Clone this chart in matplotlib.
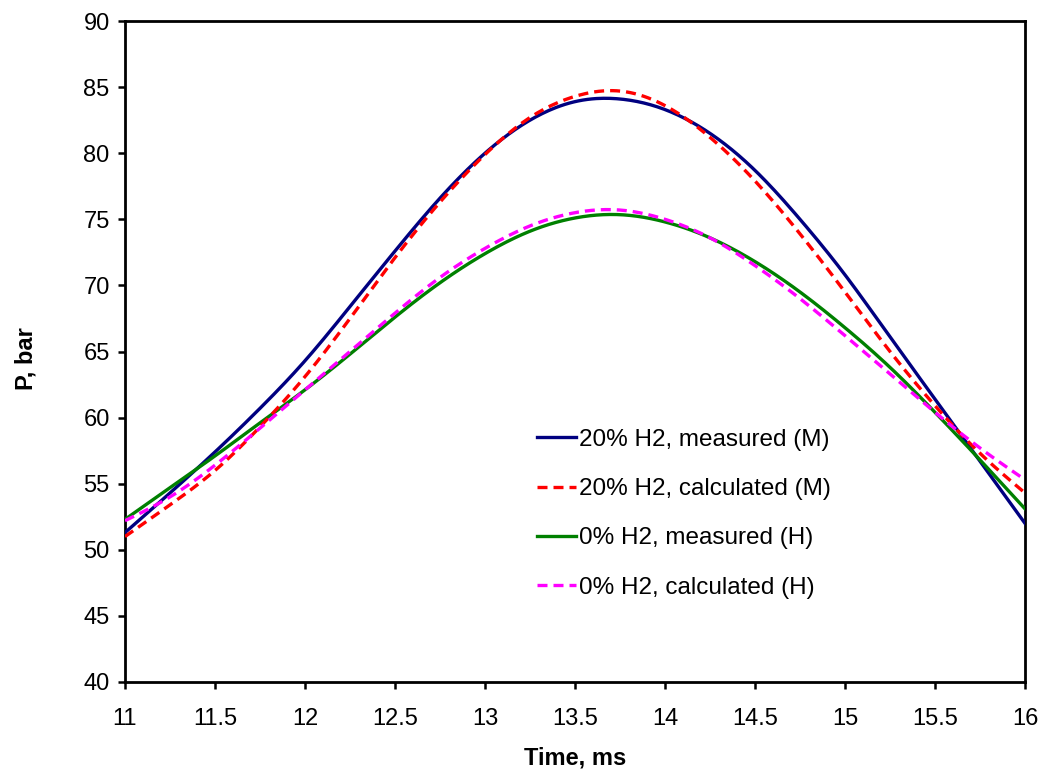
import matplotlib
matplotlib.use("Agg")
import matplotlib.pyplot as plt
import numpy as np

plt.rcParams['font.family'] = ['Liberation Sans', 'DejaVu Sans']

time_ms = [11.0, 11.25, 11.5, 11.75, 12.0, 12.25, 12.5, 12.75, 13.0, 13.25, 13.5,
           13.75, 14.0, 14.25, 14.5, 14.75, 15.0, 15.25, 15.5, 15.75, 16.0]

h2_20_measured = [51.3, 54.3, 57.4, 60.7, 64.3, 68.4, 72.6, 76.6, 80.0, 82.5, 83.9,
                  84.1, 83.3, 81.5, 78.7, 75.0, 70.8, 66.1, 61.4, 56.7, 52.0]
h2_20_calculated = [51.0, 53.4, 56.0, 59.3, 63.1, 67.5, 72.1, 76.3, 79.9, 82.7, 84.3,
                    84.7, 83.6, 81.2, 77.9, 73.9, 69.5, 65.0, 60.9, 57.3, 54.3]
h2_0_measured = [52.3, 54.7, 57.1, 59.6, 62.1, 64.8, 67.6, 70.2, 72.4, 74.1, 75.1,
                 75.35, 74.8, 73.6, 71.8, 69.5, 66.8, 63.8, 60.4, 56.8, 53.1]
h2_0_calculated = [52.2, 54.0, 56.4, 59.2, 62.1, 65.0, 67.9, 70.6, 72.8, 74.5, 75.5,
                   75.7, 75.0, 73.6, 71.5, 69.0, 66.2, 63.3, 60.4, 57.7, 55.3]

labels = ["20% H2, measured (M)", "20% H2, calculated (M)",
          "0% H2, measured (H)", "0% H2, calculated (H)"]

x_ticks = [11, 11.5, 12, 12.5, 13, 13.5, 14, 14.5, 15, 15.5, 16]
x_tick_labels = ["11", "11.5", "12", "12.5", "13", "13.5", "14", "14.5", "15", "15.5", "16"]
y_ticks = [40, 45, 50, 55, 60, 65, 70, 75, 80, 85, 90]

fig = plt.figure(figsize=(10.45, 7.78), dpi=100)
ax = fig.add_axes([125/1045, (778-682)/778, 900/1045, 661/778])


def smooth(x, y, n=400):
    """Natural cubic spline through the read points."""
    x = np.asarray(x, float); y = np.asarray(y, float)
    xs = np.linspace(x[0], x[-1], n)
    h = np.diff(x)
    nn = len(x)
    A = np.zeros((nn, nn)); b = np.zeros(nn)
    A[0, 0] = A[-1, -1] = 1
    for i in range(1, nn-1):
        A[i, i-1] = h[i-1]; A[i, i] = 2*(h[i-1]+h[i]); A[i, i+1] = h[i]
        b[i] = 3*((y[i+1]-y[i])/h[i] - (y[i]-y[i-1])/h[i-1])
    c = np.linalg.solve(A, b)
    bb = (y[1:]-y[:-1])/h - h*(2*c[:-1]+c[1:])/3
    d = (c[1:]-c[:-1])/(3*h)
    idx = np.clip(np.searchsorted(x, xs) - 1, 0, nn-2)
    dx = xs - x[idx]
    ys = y[idx] + bb[idx]*dx + c[idx]*dx**2 + d[idx]*dx**3
    return xs, ys


lw = 2.4
dash = (0, (3.0, 1.8))
ax.plot(*smooth(time_ms, h2_20_measured), color='#000080', lw=lw, label=labels[0], zorder=3)
ax.plot(*smooth(time_ms, h2_20_calculated), color='#ff0000', lw=lw, ls=dash, label=labels[1], zorder=4)
ax.plot(*smooth(time_ms, h2_0_measured), color='#008000', lw=lw, label=labels[2], zorder=3)
ax.plot(*smooth(time_ms, h2_0_calculated), color='#ff00ff', lw=lw, ls=dash, label=labels[3], zorder=4)

ax.set_xlim(11, 16)
ax.set_ylim(40, 90)
ax.set_xticks(x_ticks)
ax.set_xticklabels(x_tick_labels)
ax.set_yticks(y_ticks)

for s in ax.spines.values():
    s.set_linewidth(2.0)
    s.set_color('black')
ax.tick_params(axis='both', direction='out', length=5, width=1.8, labelsize=17, colors='black')
ax.tick_params(axis='x', pad=14)
ax.tick_params(axis='y', pad=6)

ax.set_xlabel("Time, ms", fontsize=17, fontweight='bold')
ax.set_ylabel("P, bar", fontsize=17, fontweight='bold')
ax.xaxis.set_label_coords(0.5, -0.097)
ax.yaxis.set_label_coords(-0.097, 0.49)

leg = ax.legend(loc='upper left', bbox_to_anchor=(0.458, 0.383), frameon=False,
                fontsize=17.5, handlelength=1.6, handletextpad=0.12, labelspacing=1.12,
                borderpad=0, borderaxespad=0)

fig.savefig("out.png", dpi=100)
